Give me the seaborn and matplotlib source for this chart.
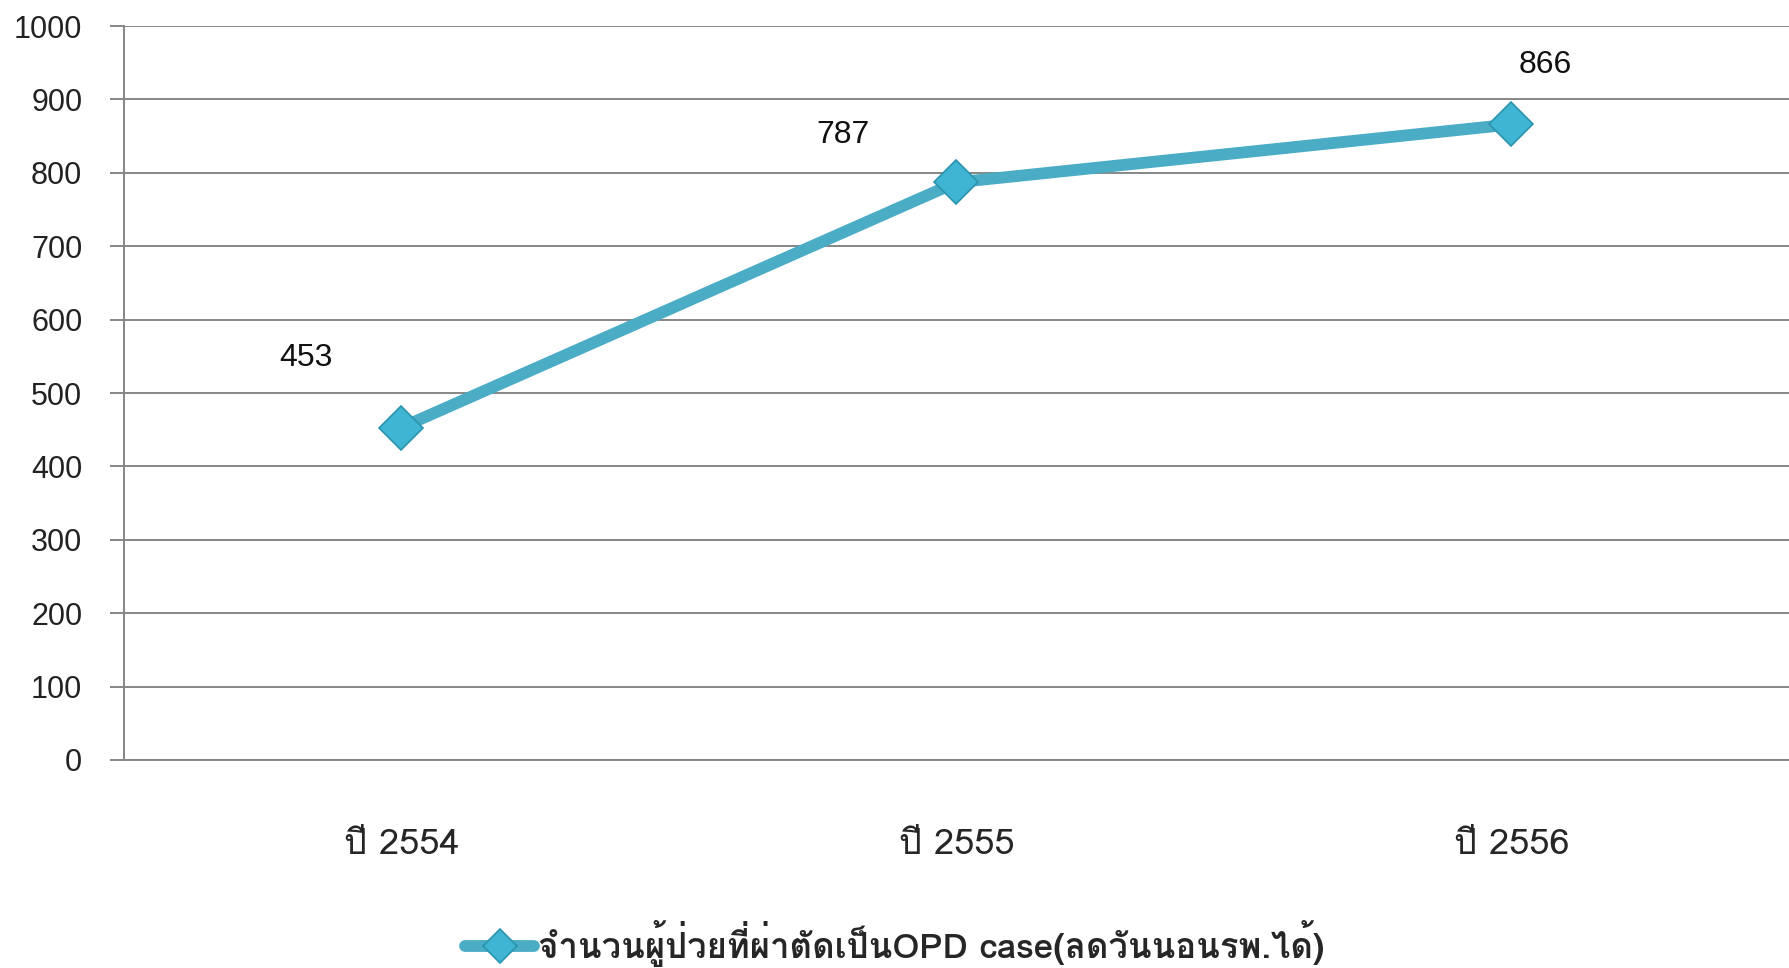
import matplotlib
matplotlib.use('Agg')
import matplotlib.pyplot as plt
from matplotlib import font_manager
from matplotlib.ft2font import FT2Font
import seaborn as sns
import pandas as pd

years = ['ปี 2554', 'ปี 2555', 'ปี 2556']
opd_cases = [453, 787, 866]
series_name = 'จำนวนผู้ป่วยที่ผ่าตัดเป็นOPD case(ลดวันนอนรพ.ได้)'
y_ticks = [0, 100, 200, 300, 400, 500, 600, 700, 800, 900, 1000]
# where each value label sits relative to its point (points)
label_offsets = [(-69, 50), (-82, 34), (24, 43)]


def find_thai_font():
    for f in font_manager.fontManager.ttflist:
        try:
            if 0x0E08 in FT2Font(f.fname).get_charmap():
                return f.name
        except Exception:
            pass
    return None


sns.set_style('white')
thai = find_thai_font()
fams = [thai, 'DejaVu Sans'] if thai else ['DejaVu Sans']
plt.rcParams['font.family'] = ['Liberation Sans'] + fams

df = pd.DataFrame({'year': years, 'cases': opd_cases})

fig = plt.figure(figsize=(17.89, 9.68), dpi=100)
ax = fig.add_axes([0.0693, 0.2149, 0.9307, 0.7582])

sns.lineplot(data=df, x='year', y='cases', ax=ax, color='#4BACC6', linewidth=8.5,
             marker='D', markersize=22, markerfacecolor='#3FB5D3',
             markeredgecolor='#2A93AE', markeredgewidth=1.2, label=series_name,
             legend=False)

ax.set_ylim(0, 1000)
ax.set_xlim(-0.5, 2.5)
ax.set_yticks(y_ticks)
ax.set_yticklabels([str(v) for v in y_ticks], fontsize=22, color='#222222')
ax.yaxis.grid(True, color='#868686', linewidth=1.4)
ax.set_axisbelow(True)

ax.set_xticks(range(len(years)))
ax.set_xticklabels(years, fontsize=26, family=fams)
ax.set_xticks([-0.5, 0.5, 1.5, 2.5], minor=True)
ax.tick_params(axis='x', which='major', length=0, pad=50)
ax.tick_params(axis='x', which='minor', length=12, width=1.4, color='#868686')
ax.tick_params(axis='y', length=10, width=1.4, color='#868686', pad=20, left=True)
ax.set_xlabel('')
ax.set_ylabel('')

for s in ['top', 'right']:
    ax.spines[s].set_visible(False)
ax.spines['left'].set_color('#868686')
ax.spines['left'].set_linewidth(1.4)
ax.spines['bottom'].set_color('#868686')
ax.spines['bottom'].set_linewidth(1.4)

for i, v in enumerate(opd_cases):
    ax.annotate(str(v), (i, v), xytext=label_offsets[i], textcoords='offset points',
                ha='center', va='center', fontsize=23, color='#111111')

handles, labels = ax.get_legend_handles_labels()
fig.legend(handles, labels, loc='center', bbox_to_anchor=(0.5, 0.025), frameon=False,
           prop={'family': fams, 'size': 25, 'weight': 'bold'},
           handlelength=2.0, handletextpad=0.1, markerscale=0.8)

fig.savefig('out.png', dpi=100)
